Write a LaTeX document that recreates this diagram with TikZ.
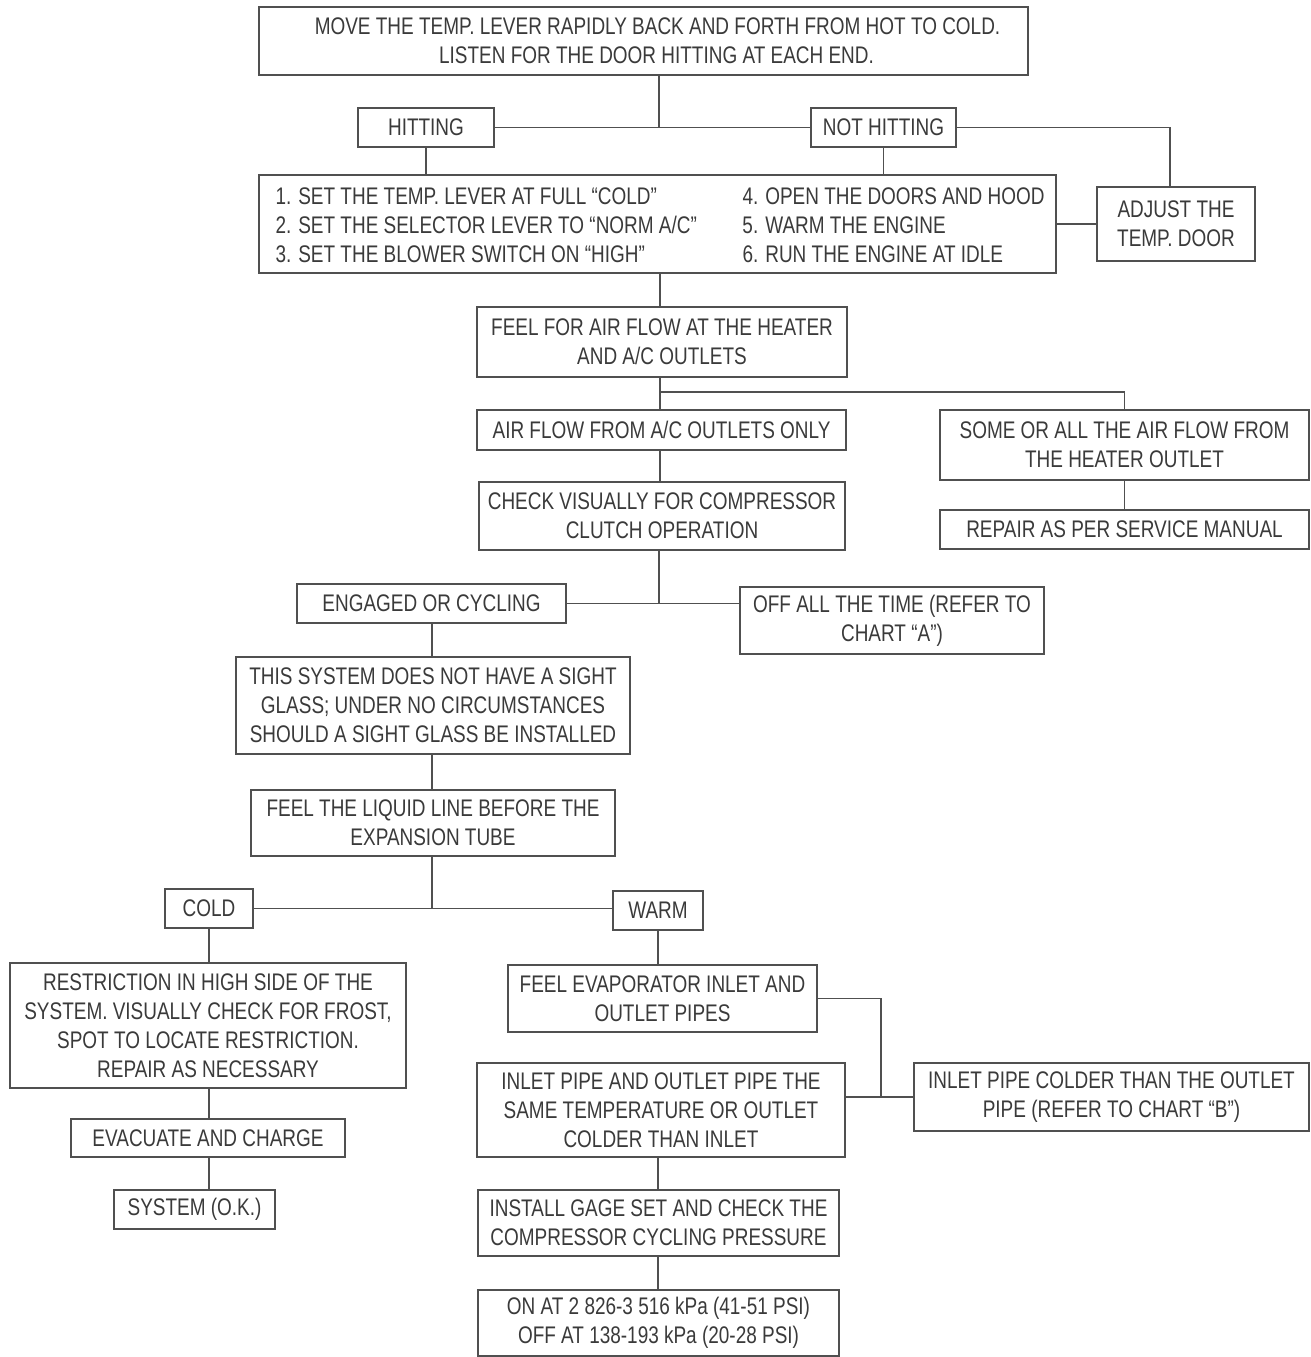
\documentclass[tikz,border=0pt]{standalone}
\usepackage{fontspec}
\setmainfont{Liberation Sans}[FakeStretch=0.79]
\usetikzlibrary{positioning}
\definecolor{Ink}{HTML}{3A3A3A}
\definecolor{Rule}{HTML}{505050}
\tikzset{
  chartbox/.style={draw=Rule,line width=1.3pt,rectangle,align=center,text=Ink,inner sep=0pt,
    font=\fontsize{24}{29}\selectfont},
  link/.style={draw=Rule,line width=1.3pt}
}

\begin{document}
\begin{tikzpicture}[x=1pt,y=-1pt]
  \useasboundingbox (0,0) rectangle (1311,1357);
  % first test and its two answers
  \node[chartbox,minimum width=769pt,minimum height=68pt] (top) at (643.5,41)
    {\hspace*{28pt}MOVE THE TEMP. LEVER RAPIDLY BACK AND FORTH FROM HOT TO COLD.\\\hspace*{26pt}LISTEN FOR THE DOOR HITTING AT EACH END.};
  \node[chartbox,minimum width=136pt,minimum height=39pt] (hit) at (426,127.5) {HITTING};
  \node[chartbox,minimum width=145pt,minimum height=39pt] (nothit) at (883.5,127.5) {NOT HITTING};
  \node[chartbox,minimum width=797pt,minimum height=98pt] (steps) at (657.5,224)
    {\hspace*{5pt}\raisebox{-4pt}[\height][\depth]{\begin{tabular}{@{}p{467pt}@{}l@{}}
      1. SET THE TEMP. LEVER AT FULL ``COLD'' & 4. OPEN THE DOORS AND HOOD\\
      2. SET THE SELECTOR LEVER TO ``NORM A/C'' & 5. WARM THE ENGINE\\
      3. SET THE BLOWER SWITCH ON ``HIGH'' & 6. RUN THE ENGINE AT IDLE
    \end{tabular}}};
  \node[chartbox,minimum width=158pt,minimum height=74pt] (adjust) at (1176,224) {ADJUST THE\\TEMP. DOOR};
  % air flow
  \node[chartbox,minimum width=370pt,minimum height=70pt] (feelair) at (662,342)
    {FEEL FOR AIR FLOW AT THE HEATER\\AND A/C OUTLETS};
  \node[chartbox,minimum width=369pt,minimum height=40pt] (aconly) at (661.5,430) {AIR FLOW FROM A/C OUTLETS ONLY};
  \node[chartbox,minimum width=369pt,minimum height=70pt] (heater) at (1124.5,445)
    {SOME OR ALL THE AIR FLOW FROM\\THE HEATER OUTLET};
  \node[chartbox,minimum width=366pt,minimum height=68pt] (clutch) at (662,516)
    {CHECK VISUALLY FOR COMPRESSOR\\CLUTCH OPERATION};
  \node[chartbox,minimum width=369pt,minimum height=39pt] (repair) at (1124.5,529.5) {REPAIR AS PER SERVICE MANUAL};
  % clutch
  \node[chartbox,minimum width=269pt,minimum height=39pt] (engaged) at (431.5,603.5) {ENGAGED OR CYCLING};
  \node[chartbox,minimum width=304pt,minimum height=67pt] (offall) at (892,620.5)
    {OFF ALL THE TIME (REFER TO\\CHART ``A'')};
  \node[chartbox,minimum width=394pt,minimum height=97pt] (sight) at (433,705.5)
    {THIS SYSTEM DOES NOT HAVE A SIGHT\\GLASS; UNDER NO CIRCUMSTANCES\\SHOULD A SIGHT GLASS BE INSTALLED};
  \node[chartbox,minimum width=364pt,minimum height=66pt] (liquid) at (433,823)
    {FEEL THE LIQUID LINE BEFORE THE\\EXPANSION TUBE};
  % liquid line
  \node[chartbox,minimum width=88pt,minimum height=39pt] (cold) at (209,908.5) {COLD};
  \node[chartbox,minimum width=90pt,minimum height=39pt] (warm) at (658,910.5) {WARM};
  \node[chartbox,minimum width=396pt,minimum height=125pt] (restrict) at (208,1025.5)
    {RESTRICTION IN HIGH SIDE OF THE\\SYSTEM. VISUALLY CHECK FOR FROST,\\SPOT TO LOCATE RESTRICTION.\\REPAIR AS NECESSARY};
  \node[chartbox,minimum width=274pt,minimum height=38pt] (evac) at (208,1138) {EVACUATE AND CHARGE};
  \node[chartbox,minimum width=161pt,minimum height=39pt] (sysok) at (194.5,1209.5) {SYSTEM (O.K.)};
  \node[chartbox,minimum width=309pt,minimum height=67pt] (evap) at (662.5,998.5)
    {FEEL EVAPORATOR INLET AND\\OUTLET PIPES};
  \node[chartbox,minimum width=368pt,minimum height=94pt] (same) at (661,1110)
    {INLET PIPE AND OUTLET PIPE THE\\SAME TEMPERATURE OR OUTLET\\COLDER THAN INLET};
  \node[chartbox,minimum width=395pt,minimum height=68pt] (colder) at (1111.5,1097)
    {INLET PIPE COLDER THAN THE OUTLET\\PIPE (REFER TO CHART ``B'')};
  \node[chartbox,minimum width=361pt,minimum height=66pt] (gage) at (658.5,1223)
    {INSTALL GAGE SET AND CHECK THE\\COMPRESSOR CYCLING PRESSURE};
  \node[chartbox,minimum width=361pt,minimum height=66pt] (onat) at (658.5,1323)
    {ON AT 2 826-3 516 kPa (41-51 PSI)\\OFF AT 138-193 kPa (20-28 PSI)};
  % junctions
  \coordinate (j1) at (659,127.5);
  \coordinate (j2) at (660,392);
  \coordinate (j3) at (881,1096);
  \coordinate (j4) at (1170,127.5);
  \coordinate (j5) at (659,604);
  \coordinate (j6) at (432,909);
  % connectors
  \draw[link] (j1 |- top.south) -- (j1);
  \draw[link] (hit.east) -- (nothit.west);
  \draw[link] (nothit.east) -- (j4) -- (j4 |- adjust.north);
  \draw[link] (hit.south) -- (hit.south |- steps.north);
  \draw[link] (nothit.south) -- (nothit.south |- steps.north);
  \draw[link] (steps.east) -- (adjust.west);
  \draw[link] (j2 |- steps.south) -- (j2 |- feelair.north);
  \draw[link] (j2 |- feelair.south) -- (j2 |- aconly.north);
  \draw[link] (j2) -| (heater.north);
  \draw[link] (j2 |- aconly.south) -- (j2 |- clutch.north);
  \draw[link] (heater.south) -- (heater.south |- repair.north);
  \draw[link] (j5 |- clutch.south) -- (j5);
  \draw[link] (engaged.east) -- (engaged.east -| offall.west);
  \draw[link] (j6 |- engaged.south) -- (j6 |- sight.north);
  \draw[link] (j6 |- sight.south) -- (j6 |- liquid.north);
  \draw[link] (j6 |- liquid.south) -- (j6);
  \draw[link] (cold.east) -- (cold.east -| warm.west);
  \draw[link] (cold.south) -- (cold.south |- restrict.north);
  \draw[link] (warm.south) -- (warm.south |- evap.north);
  \draw[link] (evap.east) -| (j3);
  \draw[link] (same.east |- colder.west) -- (colder.west);
  \draw[link] (cold.south |- restrict.south) -- (cold.south |- evac.north);
  \draw[link] (cold.south |- evac.south) -- (cold.south |- sysok.north);
  \draw[link] (warm.south |- same.south) -- (warm.south |- gage.north);
  \draw[link] (warm.south |- gage.south) -- (warm.south |- onat.north);
\end{tikzpicture}
\end{document}
